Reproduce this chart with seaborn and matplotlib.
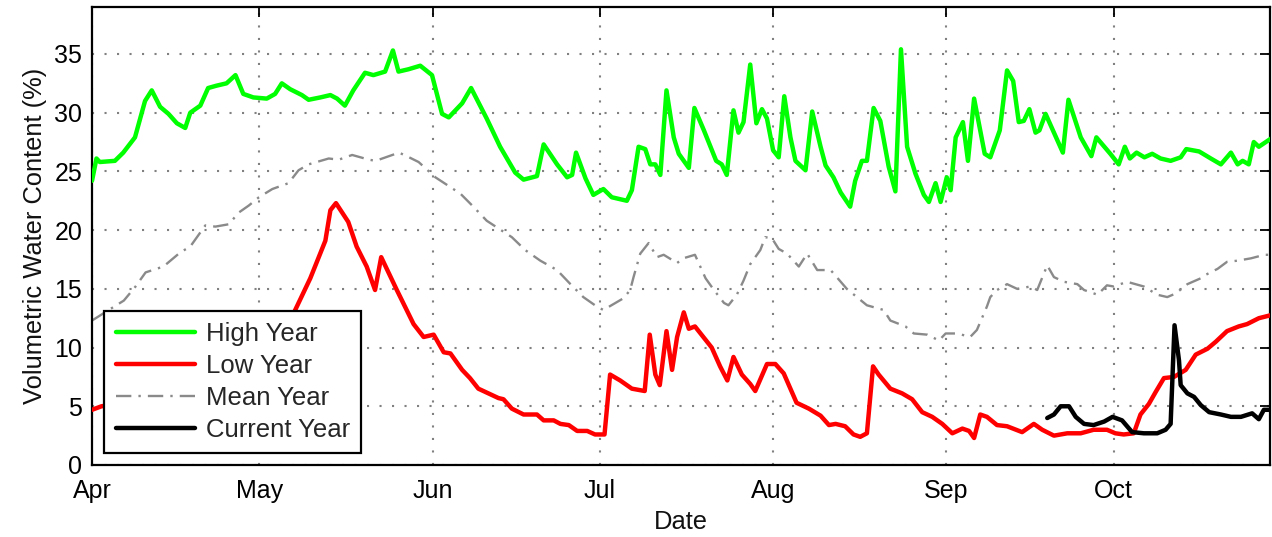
import pandas as pd
import numpy as np
import matplotlib
matplotlib.use("Agg")
import matplotlib.pyplot as plt
import matplotlib.dates as mdates
import seaborn as sns

# DATA - days counted from 1 April, values in % volumetric water content
start = pd.Timestamp("2013-04-01")

high_days = [0, 0.8, 1.4, 4.1, 5.6, 7.7, 9.5, 10.7, 12.2, 13.7,
             15.2, 16.7, 17.6, 19.4, 20.8, 22.3, 24.1, 25.7, 27.1, 28.9,
             31.3, 32.8, 34.0, 35.5, 37.6, 38.8, 40.9, 42.7, 43.9, 45.3,
             46.8, 48.9, 50.4, 52.5, 53.9, 54.9, 56.7, 58.8, 60.9, 62.7,
             63.9, 66.3, 67.9, 70.7, 73.1, 75.8, 77.3, 79.7, 80.9, 83.3,
             85.1, 86.0, 86.7, 88.4, 89.8, 91.6, 93.1, 95.8, 96.7, 97.9,
             99.1, 100.0, 100.9, 101.8, 102.9, 104.2, 105.1, 106.9, 107.9, 109.6,
             111.8, 112.8, 113.7, 114.9, 115.8, 116.7, 117.9, 119.0, 120.0, 120.9,
             122.0, 123.0, 124.0, 125.1, 126.0, 127.8, 129.0, 130.5, 131.4, 132.8,
             134.1, 135.8, 136.7, 137.9, 138.8, 140.0, 141.2, 142.7, 143.9, 144.9,
             146.0, 147.5, 149.0, 149.9, 151.1, 152.0, 153.1, 153.8, 154.7, 156.0,
             156.9, 158.0, 159.9, 160.9, 162.6, 163.9, 165.0, 166.0, 166.9, 167.9,
             169.0, 169.7, 170.8, 173.9, 174.9, 177.1, 179.0, 179.9, 182.4, 183.9,
             185.0, 185.9, 187.1, 188.5, 189.9, 191.4, 193.2, 195.0, 196.0, 198.3,
             200.4, 202.2, 204.0, 205.2, 206.1, 207.2, 208.1, 209.0, 211.5]
high_vals = [24.2, 26.1, 25.8, 25.9, 26.6, 27.9, 31.0, 31.9, 30.5, 29.9,
             29.1, 28.7, 30.0, 30.6, 32.1, 32.3, 32.5, 33.2, 31.6, 31.3,
             31.2, 31.6, 32.5, 32.0, 31.5, 31.1, 31.3, 31.5, 31.2, 30.6,
             31.9, 33.4, 33.2, 33.5, 35.3, 33.5, 33.7, 34.0, 33.2, 29.9,
             29.6, 30.8, 32.1, 29.5, 27.1, 24.9, 24.3, 24.6, 27.3, 25.6,
             24.5, 24.7, 26.6, 24.4, 23.0, 23.5, 22.8, 22.5, 23.4, 27.1,
             26.9, 25.6, 25.6, 24.7, 31.9, 27.9, 26.5, 25.3, 30.4, 28.5,
             25.9, 25.6, 24.7, 30.2, 28.3, 29.2, 34.1, 29.1, 30.3, 29.5,
             26.8, 26.2, 31.4, 27.9, 25.9, 25.1, 30.1, 27.1, 25.5, 24.5,
             23.2, 22.0, 24.2, 25.9, 25.9, 30.4, 29.3, 25.4, 23.3, 35.4,
             27.1, 24.8, 23.0, 22.4, 24.0, 22.4, 24.5, 23.4, 27.9, 29.2,
             25.9, 31.2, 26.5, 26.2, 28.5, 33.6, 32.7, 29.2, 29.3, 30.3,
             28.3, 28.5, 29.9, 26.6, 31.1, 27.9, 26.3, 27.9, 26.5, 25.6,
             27.1, 26.1, 26.6, 26.2, 26.5, 26.1, 25.9, 26.2, 26.9, 26.7,
             26.1, 25.6, 26.6, 25.6, 25.9, 25.6, 27.5, 27.1, 27.9]

low_days = [0, 1.7, 10, 20, 28, 36.1, 39.1, 41.8, 42.7, 43.7,
            45.9, 47.4, 49.2, 50.7, 51.8, 54.6, 57.6, 59.4, 61.2, 63.0,
            64.2, 66.3, 67.7, 69.2, 71.0, 72.8, 73.7, 75.2, 77.3, 79.7,
            80.9, 82.7, 83.9, 85.4, 86.9, 88.7, 90.1, 91.8, 92.8, 94.6,
            96.7, 99.0, 99.9, 100.9, 101.7, 102.9, 103.9, 104.8, 106.0, 106.9,
            108.0, 109.5, 111.0, 112.5, 113.8, 114.9, 116.4, 117.9, 118.8, 120.9,
            122.4, 123.9, 126.2, 128.4, 130.5, 132.0, 133.2, 134.9, 136.4, 137.6,
            138.8, 139.9, 140.9, 143.0, 145.1, 146.9, 148.7, 150.5, 152.3, 154.1,
            155.9, 157.1, 158.0, 159.1, 160.3, 162.1, 163.9, 166.6, 168.7, 170.2,
            172.3, 174.7, 177.1, 179.4, 181.8, 183.3, 184.8, 186.6, 187.8, 189.3,
            190.5, 192.0, 193.8, 195.9, 197.7, 199.8, 201.3, 203.3, 205.4, 206.9,
            209.0, 211.5]
low_vals = [4.7, 5.0, 5.6, 7.5, 10.0, 12.9, 15.9, 19.1, 21.7, 22.3,
            20.7, 18.6, 16.9, 14.9, 17.7, 14.9, 12.0, 10.9, 11.1, 9.6,
            9.5, 8.1, 7.4, 6.5, 6.1, 5.7, 5.6, 4.8, 4.3, 4.3,
            3.8, 3.8, 3.5, 3.4, 2.9, 2.9, 2.6, 2.6, 7.7, 7.2,
            6.5, 6.3, 11.1, 7.7, 6.8, 11.4, 8.1, 10.9, 13.0, 11.6,
            11.8, 10.9, 10.0, 8.4, 7.2, 9.2, 7.7, 6.9, 6.3, 8.6,
            8.6, 7.8, 5.3, 4.8, 4.2, 3.4, 3.5, 3.3, 2.6, 2.4,
            2.7, 8.4, 7.7, 6.5, 6.1, 5.6, 4.5, 4.1, 3.5, 2.7,
            3.1, 2.9, 2.3, 4.3, 4.1, 3.4, 3.3, 2.8, 3.5, 3.0,
            2.5, 2.7, 2.7, 3.0, 3.0, 2.7, 2.6, 2.7, 4.3, 5.2,
            6.2, 7.4, 7.5, 8.1, 9.4, 9.9, 10.5, 11.4, 11.8, 12.0,
            12.5, 12.8]

mean_days = [0, 3.0, 5.7, 7.8, 9.6, 12.8, 15.8, 17.6, 20.3, 22.1,
             24.5, 26.3, 28.1, 29.9, 32.3, 35.2, 37.0, 38.8, 42.4, 44.2,
             46.6, 49.6, 50.8, 55.0, 56.8, 58.5, 61.5, 66.0, 68.3, 70.7,
             75.2, 77.6, 80.3, 83.3, 85.7, 88.0, 90.4, 91.6, 95.2, 96.4,
             97.0, 98.2, 99.7, 101.2, 102.4, 104.8, 105.9, 108.0, 109.9, 111.4,
             113.2, 114.0, 115.5, 116.7, 117.9, 119.7, 120.6, 121.8, 123.0, 124.5,
             126.6, 128.1, 129.9, 132.3, 135.2, 137.0, 138.8, 141.8, 143.0, 145.7,
             147.2, 149.6, 151.7, 152.9, 155.0, 157.3, 158.5, 160.3, 160.9, 162.1,
             163.9, 165.7, 168.1, 169.3, 171.1, 172.3, 174.1, 176.5, 177.7, 180.1,
             181.8, 183.0, 185.4, 188.4, 190.8, 192.6, 194.1, 196.2, 198.6, 199.5,
             201.6, 203.3, 205.2, 207.6, 210.0, 211.5]
mean_vals = [12.3, 13.2, 14.0, 15.2, 16.4, 16.9, 18.1, 18.6, 20.4, 20.3,
             20.5, 21.5, 22.1, 22.8, 23.5, 24.0, 25.1, 25.6, 26.1, 26.0,
             26.4, 26.0, 25.9, 26.6, 26.2, 25.8, 24.5, 23.1, 22.0, 20.8,
             19.4, 18.3, 17.4, 16.6, 15.4, 14.3, 13.5, 13.2, 14.2, 14.9,
             16.0, 18.0, 18.9, 17.7, 17.9, 17.2, 17.6, 17.9, 15.9, 14.9,
             13.8, 13.6, 14.5, 15.7, 17.1, 18.3, 19.4, 19.3, 18.4, 18.0,
             16.9, 18.0, 16.6, 16.6, 15.0, 14.3, 13.6, 13.2, 12.3, 11.8,
             11.2, 11.1, 10.6, 11.2, 11.2, 10.9, 11.5, 13.5, 14.3, 14.9,
             15.4, 15.0, 15.2, 14.9, 17.0, 16.0, 15.6, 15.4, 14.9, 14.5,
             15.3, 15.2, 15.6, 15.2, 14.5, 14.3, 14.6, 15.4, 15.9, 16.2,
             16.7, 17.3, 17.4, 17.6, 17.9, 17.9]

current_days = [171.1, 172.3, 173.5, 175.0, 176.2, 177.7, 179.4, 181.3, 182.8, 184.5,
                186.3, 188.4, 190.8, 192.3, 193.2, 193.9, 194.7, 195.0, 196.2, 197.4,
                198.6, 200.1, 202.2, 204.0, 205.8, 207.8, 209.0, 209.9, 211.5]
current_vals = [4.0, 4.3, 5.0, 5.0, 4.1, 3.5, 3.4, 3.7, 4.1, 3.8,
                2.8, 2.7, 2.7, 3.0, 3.5, 11.9, 8.9, 6.8, 6.1, 5.8,
                5.1, 4.5, 4.3, 4.1, 4.1, 4.4, 3.9, 4.7, 4.7]


def to_frame(days, vals):
    return pd.DataFrame({"date": start + pd.to_timedelta(days, unit="D"),
                         "vwc": vals})


sns.set_theme(style="white")
plt.rcParams["font.family"] = ["Liberation Sans", "DejaVu Sans"]

fig, ax = plt.subplots(figsize=(12.72, 5.37), dpi=100)
fig.subplots_adjust(left=92 / 1272, right=1270 / 1272,
                    bottom=1 - 465 / 537, top=1 - 7 / 537)

sns.lineplot(data=to_frame(mean_days, mean_vals), x="date", y="vwc", ax=ax,
             color="#8a8a8a", lw=1.7, linestyle=(0, (6.5, 3, 1, 3)),
             estimator=None, label="Mean Year", zorder=2)
sns.lineplot(data=to_frame(high_days, high_vals), x="date", y="vwc", ax=ax,
             color="#00ff00", lw=3.2, estimator=None, label="High Year", zorder=3)
sns.lineplot(data=to_frame(low_days, low_vals), x="date", y="vwc", ax=ax,
             color="#ff0000", lw=3.2, estimator=None, label="Low Year", zorder=3)
sns.lineplot(data=to_frame(current_days, current_vals), x="date", y="vwc", ax=ax,
             color="black", lw=3.2, estimator=None, label="Current Year", zorder=4)

ax.set_xlim(start, start + pd.Timedelta(days=211))
ax.set_ylim(0, 39)
ax.set_yticks(np.arange(0, 36, 5))
ax.xaxis.set_major_locator(mdates.MonthLocator())
ax.xaxis.set_major_formatter(mdates.DateFormatter("%b"))

ax.grid(True, color="0.5", linestyle=(0, (1, 5)), lw=1.5)
for s in ax.spines.values():
    s.set_visible(True)
    s.set_color("black")
    s.set_linewidth(1.6)
ax.tick_params(direction="in", top=True, right=True, length=7, width=1.3,
               labelsize=18, colors="black")
ax.tick_params(axis="x", pad=10)
ax.tick_params(axis="y", pad=7)

ax.set_xlabel("Date", fontsize=18.4, labelpad=5, color="#111111")
ax.set_ylabel("Volumetric Water Content (%)", fontsize=18.4, labelpad=5,
              color="#111111")

h, l = ax.get_legend_handles_labels()
order = ["High Year", "Low Year", "Mean Year", "Current Year"]
hd = dict(zip(l, h))
leg = ax.legend([hd[k] for k in order], order, loc="lower left",
                bbox_to_anchor=(0.0102, 0.026), borderaxespad=0, fontsize=18.5,
                handlelength=3.1, handletextpad=0.4, labelspacing=0.3,
                fancybox=False, framealpha=1, edgecolor="black",
                borderpad=0.45)
leg.get_frame().set_linewidth(1.6)

plt.savefig("out.png", dpi=100)
